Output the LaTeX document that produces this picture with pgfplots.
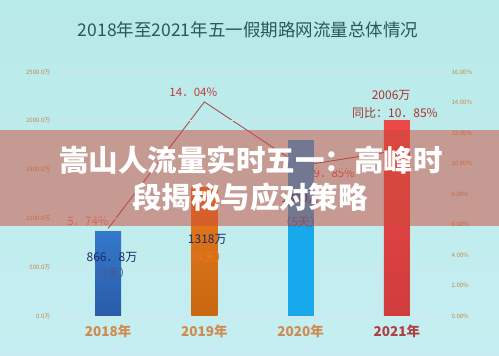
\documentclass[border=0pt]{standalone}
\usepackage{fontspec}
\usepackage{pgfplots}
\pgfplotsset{compat=1.18}
\setmainfont{Noto Sans CJK SC}
\definecolor{tickcol}{HTML}{C8864A}
\definecolor{linecol}{HTML}{A85050}
\definecolor{gridcol}{HTML}{D6E4E8}
\definecolor{cA}{HTML}{3478CC}
\definecolor{cAb}{HTML}{2A5CA8}
\definecolor{cB}{HTML}{E8781E}
\definecolor{cBb}{HTML}{C86810}
\definecolor{cC}{HTML}{18A8EC}
\definecolor{cD}{HTML}{EC4848}
\definecolor{cDb}{HTML}{D03C3C}
\definecolor{xlab}{HTML}{D08A50}
\definecolor{xlab21}{HTML}{B04040}
\definecolor{titlecol}{HTML}{2B5858}
\definecolor{navy}{HTML}{1E2A66}
\definecolor{navy2}{HTML}{4A5A8A}
\definecolor{darkred}{HTML}{A83232}
\definecolor{pctA}{HTML}{E07A70}
\definecolor{pctB}{HTML}{C83838}
\definecolor{pctC}{HTML}{D05050}
\definecolor{bannercol}{HTML}{CC4A3A}
\definecolor{bgtop}{HTML}{B8EAE8}
\definecolor{bgmid}{HTML}{EAF7F8}
\definecolor{bgbot}{HTML}{C6EEF2}
\begin{document}
\begin{tikzpicture}
\useasboundingbox (0,0) rectangle (499pt,356pt);
\shade[top color=bgtop, middle color=bgmid, bottom color=bgbot] (0,0) rectangle (499pt,356pt);
\node[text=titlecol, font=\fontsize{17.5}{20}\selectfont] at (248pt,326pt) {2018年至2021年五一假期路网流量总体情况};
% line axis (right)
\begin{axis}[at={(60pt,40pt)}, anchor=south west, scale only axis,
  width=385pt, height=244pt, xmin=-0.5, xmax=3.5, ymin=0, ymax=16,
  axis x line=none, axis y line*=right, axis line style={draw=none},
  major tick length=0pt, ytick={0,2,4,6,8,10,12,14,16},
  yticklabels={0.00\%,2.00\%,4.00\%,6.00\%,8.00\%,10.00\%,12.00\%,14.00\%,16.00\%},
  yticklabel style={font=\fontsize{6}{7}\selectfont, text=tickcol, anchor=west, xshift=3pt},
  clip=false]
\addplot[linecol, line width=0.9pt] coordinates {(0,5.74) (1,14.04) (2,9.85) (3,10.85)};
\node[text=pctA, font=\fontsize{11.5}{13}\selectfont] at (axis cs:-0.21,6.19) {5．74\%};
\node[text=pctB, font=\fontsize{11.5}{13}\selectfont] at (axis cs:0.885,14.68) {14．04\%};
\node[text=pctC, font=\fontsize{11.5}{13}\selectfont] at (axis cs:2.35,9.35) {9．85\%};
\end{axis}
% bar axis (left)
\begin{axis}[at={(60pt,40pt)}, anchor=south west, scale only axis,
  width=385pt, height=244pt, xmin=-0.5, xmax=3.5, ymin=0, ymax=2500,
  axis y line*=left, axis x line*=bottom, axis line style={draw=none},
  major tick length=0pt, xtick={0,1,2,3},
  xticklabels={{\textcolor{xlab}{2018年}},{\textcolor{xlab}{2019年}},{\textcolor{xlab}{2020年}},{\textcolor{xlab21}{2021年}}},
  xticklabel style={font=\fontsize{13.5}{15}\selectfont\bfseries, yshift=-5pt},
  ytick={0,500,1000,1500,2000,2500},
  yticklabels={0.0万,500.0万,1000.0万,1500.0万,2000.0万,2500.0万},
  yticklabel style={font=\fontsize{6}{7}\selectfont, text=tickcol, anchor=east, xshift=-6pt},
  ymajorgrids, grid style={gridcol, line width=0.6pt},
  clip=false]
\addplot[ybar, bar width=26pt, bar shift=0pt, draw=none, top color=cA, bottom color=cAb] coordinates {(0,866.8)};
\addplot[ybar, bar width=26pt, bar shift=0pt, draw=none, top color=cB, bottom color=cBb] coordinates {(1,1318)};
\addplot[ybar, bar width=26pt, bar shift=0pt, draw=none, fill=cC] coordinates {(2,1800)};
\addplot[ybar, bar width=26pt, bar shift=0pt, draw=none, top color=cD, bottom color=cDb] coordinates {(3,2006)};
\node[text=navy, font=\fontsize{12}{14}\selectfont] at (axis cs:0.04,604) {866．8万};
\node[text=navy2, font=\fontsize{12}{14}\selectfont] at (axis cs:0.02,441) {（3天）};
\node[text=navy, font=\fontsize{12}{14}\selectfont] at (axis cs:1.03,789) {1318万};
\node[text=cB, font=\fontsize{12}{14}\selectfont] at (axis cs:1.02,604) {（4天）};
\node[text=navy, font=\fontsize{12}{14}\selectfont] at (axis cs:2,1209) {1800万};
\node[text=navy2, font=\fontsize{12}{14}\selectfont] at (axis cs:2,963) {（5天）};
\node[text=darkred, font=\fontsize{12}{14}\selectfont] at (axis cs:2.94,2265) {2006万};
\node[text=darkred, font=\fontsize{12}{14}\selectfont] at (axis cs:2.98,2081) {同比：10．85\%};
\end{axis}
% banner overlay
\fill[bannercol, opacity=0.5] (0,130pt) rectangle (499pt,226pt);
\node[text=white, font=\fontsize{29.5}{32}\selectfont\bfseries] at (251pt,196pt) {嵩山人流量实时五一：高峰时};
\node[text=white, font=\fontsize{29.5}{32}\selectfont\bfseries] at (250pt,159pt) {段揭秘与应对策略};
\end{tikzpicture}
\end{document}
